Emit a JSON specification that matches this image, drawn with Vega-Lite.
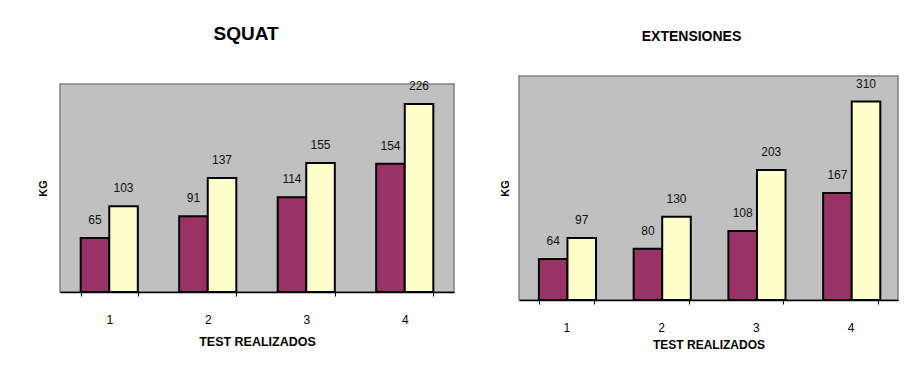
{
  "$schema": "https://vega.github.io/schema/vega-lite/v6.json",
  "background": "white",
  "padding": {"left": 36, "top": 24, "right": 5, "bottom": 5},
  "datasets": {
    "squat": [
      {"test": "1", "serie": "Serie 1", "kg": 65},
      {"test": "1", "serie": "Serie 2", "kg": 103},
      {"test": "2", "serie": "Serie 1", "kg": 91},
      {"test": "2", "serie": "Serie 2", "kg": 137},
      {"test": "3", "serie": "Serie 1", "kg": 114},
      {"test": "3", "serie": "Serie 2", "kg": 155},
      {"test": "4", "serie": "Serie 1", "kg": 154},
      {"test": "4", "serie": "Serie 2", "kg": 226}
    ],
    "extensiones": [
      {"test": "1", "serie": "Serie 1", "kg": 64},
      {"test": "1", "serie": "Serie 2", "kg": 97},
      {"test": "2", "serie": "Serie 1", "kg": 80},
      {"test": "2", "serie": "Serie 2", "kg": 130},
      {"test": "3", "serie": "Serie 1", "kg": 108},
      {"test": "3", "serie": "Serie 2", "kg": 203},
      {"test": "4", "serie": "Serie 1", "kg": 167},
      {"test": "4", "serie": "Serie 2", "kg": 310}
    ]
  },
  "spacing": 65,
  "center": true,
  "bounds": "flush",
  "hconcat": [
    {
      "width": 394,
      "height": 208,
      "data": {"name": "squat"},
      "title": {"text": "SQUAT", "fontSize": 19, "fontWeight": "bold", "color": "black", "anchor": "middle", "dx": -11, "offset": 36},
      "encoding": {
        "x": {
          "field": "test", "type": "ordinal",
          "scale": {"paddingInner": 0.42, "paddingOuter": 0.21},
          "axis": {"title": "TEST REALIZADOS", "labelPadding": 18, "titlePadding": 10, "titleFontSize": 12.5}
        },
        "xOffset": {"field": "serie", "type": "nominal", "scale": {"paddingInner": 0, "paddingOuter": 0}},
        "y": {
          "field": "kg", "type": "quantitative",
          "scale": {"domain": [0, 250]},
          "axis": {"title": "KG", "titlePadding": 12}
        }
      },
      "layer": [
        {
          "mark": {"type": "bar", "stroke": "black", "strokeWidth": 2},
          "encoding": {
            "color": {"field": "serie", "type": "nominal", "scale": {"range": ["#993366", "#FFFFCC"]}, "legend": null}
          }
        },
        {
          "mark": {"type": "text", "baseline": "middle", "dy": -18, "fontSize": 12, "color": "#111"},
          "encoding": {"text": {"field": "kg", "type": "quantitative"}}
        }
      ]
    },
    {
      "width": 379,
      "height": 224,
      "data": {"name": "extensiones"},
      "title": {"text": "EXTENSIONES", "fontSize": 14, "fontWeight": "bold", "color": "black", "anchor": "middle", "dx": -17, "offset": 32},
      "encoding": {
        "x": {
          "field": "test", "type": "ordinal",
          "scale": {"paddingInner": 0.42, "paddingOuter": 0.21},
          "axis": {"title": "TEST REALIZADOS", "labelPadding": 18, "titlePadding": 6, "titleFontSize": 12}
        },
        "xOffset": {"field": "serie", "type": "nominal", "scale": {"paddingInner": 0, "paddingOuter": 0}},
        "y": {
          "field": "kg", "type": "quantitative",
          "scale": {"domain": [0, 350]},
          "axis": {"title": "KG", "titlePadding": 9}
        }
      },
      "layer": [
        {
          "mark": {"type": "bar", "stroke": "black", "strokeWidth": 2},
          "encoding": {
            "color": {"field": "serie", "type": "nominal", "scale": {"range": ["#993366", "#FFFFCC"]}, "legend": null}
          }
        },
        {
          "mark": {"type": "text", "baseline": "middle", "dy": -18, "fontSize": 12, "color": "#111"},
          "encoding": {"text": {"field": "kg", "type": "quantitative"}}
        }
      ]
    }
  ],
  "resolve": {"scale": {"y": "independent", "x": "independent"}},
  "config": {
    "font": "Liberation Sans",
    "view": {"fill": "#C0C0C0", "stroke": "#808080", "strokeWidth": 1.5},
    "axisX": {
      "labelAngle": 0, "labelFontSize": 12, "labelColor": "black",
      "domainColor": "black", "domainWidth": 1.5, "tickColor": "black", "tickSize": 4, "tickBand": "extent",
      "titleFontWeight": "bold", "titleColor": "black", "grid": false
    },
    "axisY": {
      "labels": false, "ticks": false, "domain": false, "grid": false,
      "titleFontSize": 11, "titleFontWeight": "bold", "titleColor": "black"
    }
  }
}
